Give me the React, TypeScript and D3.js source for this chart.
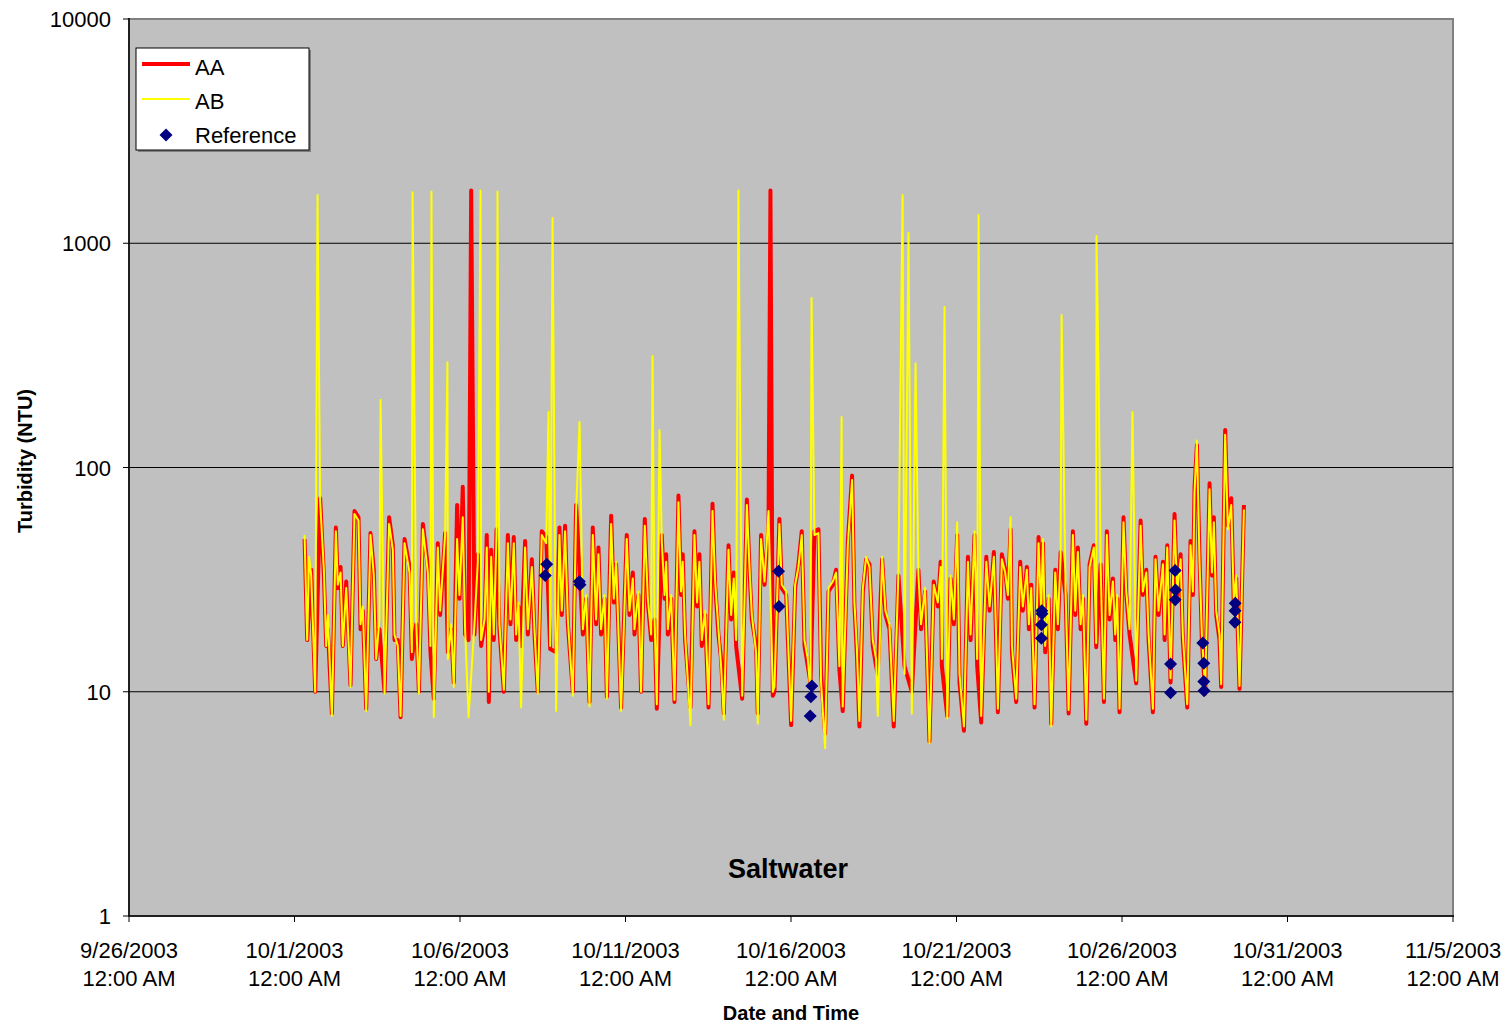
import React from "react";
import * as d3 from "d3";

// hours since 10/1/2003 12:00 AM, turbidity (NTU)
const aaSeries: [number, number][] = [
  [7.3,48],[9.2,17],[12.1,35],[15.0,10],[18.6,73],[21.3,33],[23.0,16],[24.2,19],[27.1,8],[30.0,54],[31.4,29],[33.4,36],[35.0,16],[37.5,31],[40.6,10.7],[43.5,64],[46.4,60],[47.9,19],[49.5,23],[52.0,8.4],[55.1,51],[57.5,35],[59.2,14],[61.6,19],[65.3,10],[68.6,60],[71.3,45],[72.5,17],[74.9,17],[76.9,7.7],[79.8,48],[83.4,36],[85.1,14],[88.2,20],[90.2,10],[93.1,56],[96.7,36],[98.6,15],[101.0,9.3],[103.9,46],[105.6,22],[109.2,51],[111.2,15],[113.6,19],[115.5,11],
  [117.9,68],[119.6,26],[122.0,82],[123.7,18],[126.2,17],[130.5,18],[132.9,41],[135.3,16],[137.8,20],[139.4,50],[140.9,9],[142.6,43],[144.5,17],[146.5,53],[148.6,19],[151.8,10],[154.7,50],[156.6,20],[159.0,49],[160.7,17],[162.4,24],[164.3,16],[167.2,47],[169.2,18],[172.1,39],[174.0,18],[176.4,10],[179.3,52],[182.5,49],[185.4,15.5],[189.7,15],[192.1,54],[193.8,22],[196.2,55],[198.2,20],[201.8,10],[204.2,68],[209.1,18],[211.5,26],[213.9,9],[216.3,54],[218.7,20],[220.4,44],[222.3,18],[224.8,26],[226.5,9.5],[229.6,61],[231.5,25],
  [233.2,37],[236.8,8.5],[240.9,50],[242.9,22],[245.3,34],[246.5,18],[249.4,27],[251.3,10],[254.0,59],[256.2,25],[258.6,17],[261.0,21],[262.7,8.4],[266.3,50],[268.3,26],[269.5,41],[270.7,18],[273.1,26],[275.5,9],[278.4,75],[280.3,27],[281.5,41],[283.2,17],[287.1,8.5],[290.0,52],[291.9,24],[293.6,41],[295.3,16],[297.7,22],[300.2,8.5],[303.1,69],[305.0,30],[307.4,18],[309.3,14],[311.3,8],[314.7,45],[316.6,21],[318.5,34],[320.2,16],[324.6,9.3],[328.0,72],[329.9,35],[331.6,21],[334.7,16],[335.9,8],[338.3,50],[340.8,30],[343.7,55],[346.8,9.6],
  [348.0,10],[351.6,59],[353.3,29],[356.5,27],[360.1,7.1],[363.0,29],[365.4,37],[367.8,52],[369.8,16],[372.2,13],[374.1,11],[377.0,52],[379.9,53],[381.8,12],[384.7,6.5],[387.2,28],[390.3,30],[392.7,35],[395.1,12.5],[397.5,8.2],[401.2,47],[404.3,92],[406.0,24],[407.7,15],[409.6,7],[412.1,28],[414.5,39],[416.9,37],[419.3,16],[421.7,13],[422.9,12],[426.1,39],[428.5,22],[431.4,19],[434.5,7],[437.9,33],[442.3,13],[447.6,10],[452.4,35],[454.3,19],[457.2,28],[460.4,6],[463.5,31],
  [466.5,24],[468.5,38],[469.4,13],[473.3,7.8],[475.7,32],[478.1,20],[480.5,50],[482.2,11],[485.4,6.7],[488.3,40],[490.2,17],[493.1,50],[495.0,13],[497.9,7.3],[501.6,40],[504.0,23],[507.1,42],[508.8,16],[510.0,8.1],[512.9,41],[515.3,35],[517.3,26],[519.2,53],[520.2,15],[523.3,9],[526.2,38],[528.1,23],[531.0,36],[532.5,19],[534.2,30],[536.6,8.5],[539.5,49],[541.4,22],[542.7,46],[544.3,15],[546.8,26],[548.7,7.2],[551.6,35],[553.5,19],[555.5,42],[559.1,27],[561.3,8],[564.4,52],[566.1,22],[568.0,44],[570.0,19],[571.7,26],[574.1,7.2],[576.5,37],[579.6,45],
  [581.3,15.8],[584.5,37],[586.9,9],[589.0,52],[591.0,21],[593.4,32],[595.1,17],[596.5,26],[598.2,8.1],[601.1,60],[603.1,27],[605.5,18],[610.3,10.9],[613.5,58],[615.1,27],[617.6,35],[619.3,17],[622.4,8.1],[624.3,40],[626.5,22],[629.7,38],[630.9,17],[632.8,45],[635.2,11],[638.1,62],[640.0,27],[642.5,41],[644.1,17],[647.3,8.5],[649.7,47],[651.4,27],[652.6,82],[654.3,126],[656.2,40],[657.9,17],[660.3,9.8],[663.5,85],[665.2,33],[666.6,60],[668.3,22],[670.7,17],[671.9,10.5],[674.8,147],[676.8,55],[679.2,73],[681.1,24],[682.8,32],[685.2,10.3],[688.4,68],
];

const aaSpikes: [number, number][] = [[128.1,1720],[345.1,1720]];

const abSeries: [number, number][] = [
  [7.3,50],[9.2,17],[10.6,40],[12.1,33],[15.0,10],[18.6,70],[21.3,35],[23.0,16],[24.2,22],[27.1,7.8],[30.0,52],[31.4,30],[33.4,34],[35.0,16],[37.5,29],[40.6,10.5],[43.5,62],[46.4,58],[47.9,20],[49.5,24],[52.0,8.2],[55.1,50],[57.5,33],[59.2,14],[61.6,21],[65.3,9.8],[68.6,56],[71.3,43],[72.5,18],[74.9,16],[76.9,7.8],[79.8,46],[83.4,34],[85.1,15],[88.2,21],[90.2,9.8],[93.1,53],[96.7,34],[98.6,16],[101.0,7.7],[103.9,44],[105.6,23],[109.2,50],[111.2,14],[113.6,20],[115.5,10.5],
  [117.9,48],[119.6,27],[122.0,60],[123.7,19],[126.2,7.7],[130.5,20],[132.9,38],[135.3,17],[137.8,21],[139.4,44],[140.9,10],[142.6,40],[144.5,18],[146.5,50],[148.6,20],[151.8,10.2],[154.7,46],[156.6,21],[159.0,46],[160.7,18],[162.4,25],[164.3,8.5],[167.2,44],[169.2,19],[172.1,36],[174.0,19],[176.4,9.8],[179.3,50],[182.5,46],[185.4,16],[189.7,8.2],[192.1,50],[193.8,23],[196.2,52],[198.2,21],[201.8,9.6],[204.2,64],[209.1,19],[211.5,27],[213.9,8.6],[216.3,50],[218.7,21],[220.4,41],[222.3,19],[224.8,27],[226.5,9.3],[229.6,56],[231.5,26],
  [233.2,38],[236.8,8.2],[240.9,48],[242.9,23],[245.3,32],[246.5,19],[249.4,28],[251.3,10],[254.0,55],[256.2,26],[258.6,18],[261.0,22],[262.7,8.8],[266.3,47],[268.3,27],[269.5,38],[270.7,19],[273.1,27],[275.5,9.2],[278.4,70],[280.3,28],[281.5,38],[283.2,18],[287.1,7.1],[290.0,50],[291.9,25],[293.6,38],[295.3,17],[297.7,23],[300.2,8.8],[303.1,64],[305.0,31],[307.4,19],[309.3,13],[311.3,7.5],[314.7,43],[316.6,22],[318.5,32],[320.2,17],[324.6,9.6],[328.0,68],[329.9,36],[331.6,22],[334.7,15],[335.9,7.2],[338.3,48],[340.8,31],[343.7,64],[346.8,10],
  [348.0,10.5],[351.6,56],[353.3,30],[356.5,28],[360.1,7.4],[363.0,30],[365.4,36],[367.8,50],[369.8,17],[372.2,14],[374.1,10],[377.0,50],[379.9,51],[381.8,11],[384.7,5.6],[387.2,29],[390.3,31],[392.7,34],[395.1,13],[397.5,8.6],[401.2,45],[404.3,88],[406.0,25],[407.7,16],[409.6,7.4],[412.1,29],[414.5,40],[416.9,36],[419.3,17],[421.7,14],[422.9,7.8],[426.1,40],[428.5,23],[431.4,20],[434.5,7.4],[437.9,34],[442.3,12],[447.6,8],[452.4,33],[454.3,20],[457.2,29],[460.4,5.9],[463.5,30],
  [466.5,25],[468.5,36],[469.4,14],[473.3,7.6],[475.7,33],[478.1,21],[480.5,57],[482.2,12],[485.4,7],[488.3,38],[490.2,18],[493.1,52],[495.0,14],[497.9,7.8],[501.6,38],[504.0,24],[507.1,40],[508.8,17],[510.0,8.4],[512.9,39],[515.3,34],[517.3,27],[519.2,60],[520.2,16],[523.3,9.3],[526.2,36],[528.1,24],[531.0,35],[532.5,20],[534.2,29],[536.6,8.8],[539.5,46],[541.4,23],[542.7,48],[544.3,16],[546.8,27],[548.7,7],[551.6,34],[553.5,20],[555.5,40],[559.1,28],[561.3,8.3],[564.4,50],[566.1,23],[568.0,42],[570.0,20],[571.7,27],[574.1,7.5],[576.5,36],[579.6,44],
  [581.3,16.5],[584.5,36],[586.9,9.3],[589.0,50],[591.0,22],[593.4,31],[595.1,18],[596.5,27],[598.2,8.4],[601.1,57],[603.1,28],[605.5,19],[610.3,11.2],[613.5,55],[615.1,28],[617.6,34],[619.3,18],[622.4,8.4],[624.3,39],[626.5,23],[629.7,37],[630.9,18],[632.8,44],[635.2,11.5],[638.1,58],[640.0,28],[642.5,39],[644.1,18],[647.3,8.8],[649.7,45],[651.4,28],[652.6,78],[654.3,132],[656.2,38],[657.9,18],[660.3,10.2],[663.5,80],[665.2,34],[666.6,57],[668.3,23],[670.7,18],[671.9,10.8],[674.8,140],[676.8,53],[679.2,68],[681.1,25],[682.8,33],[685.2,10.6],[688.4,65],
];

const abSpikes: [number, number][] = [
  [16.7,1640],[62.4,200],[85.6,1690],[99.3,1700],[110.9,295],[134.9,1720],[147.2,1700],[184.2,177],[187.1,1297],[206.7,160],[259.6,314],[264.7,147],[321.9,1720],[374.9,570],[396.7,168],[440.9,1640],[445.2,1110],[450.3,292],[471.3,520],[496.0,1337],[556.2,479],[581.5,1076],[583.0,267],[607.6,177],
];

const referenceHours: number[] = [181.8,182.9,206.5,207.0,351.0,351.3,375.1,374.4,373.9,541.8,542.0,541.6,541.6,638.5,638.8,638.6,635.2,635.2,658.6,659.3,659.3,659.5,682.1,682.0,681.9];
const referenceValues: number[] = [33,37,31,30,34.5,24,10.6,9.5,7.8,23,22.3,19.9,17.3,34.7,28.4,25.7,13.3,9.9,16.5,13.4,11.1,10.1,24.8,23,20.4];

const yTicks: number[] = [1, 10, 100, 1000, 10000];
const xTickDates: Date[] = [
  new Date(Date.UTC(2003, 8, 26)), new Date(Date.UTC(2003, 9, 1)), new Date(Date.UTC(2003, 9, 6)),
  new Date(Date.UTC(2003, 9, 11)), new Date(Date.UTC(2003, 9, 16)), new Date(Date.UTC(2003, 9, 21)),
  new Date(Date.UTC(2003, 9, 26)), new Date(Date.UTC(2003, 9, 31)), new Date(Date.UTC(2003, 10, 5)),
];
const seriesStart = Date.UTC(2003, 9, 1);

const W = 1511, H = 1028;
const L = 129, R = 1453, T = 19, B = 916;
const FONT = "'Liberation Sans', Arial, sans-serif";

const toDate = (h: number) => new Date(seriesStart + h * 3600e3);
const merge = (a: [number, number][], b: [number, number][]) => [...a, ...b].sort((p, q) => p[0] - q[0]);

export default function App() {
  const x = d3.scaleUtc().domain([xTickDates[0], xTickDates[xTickDates.length - 1]]).range([L, R]);
  const y = d3.scaleLog().domain([1, 10000]).range([B, T]);
  const line = d3.line<[number, number]>().x((d) => x(toDate(d[0]))).y((d) => y(d[1]));
  const aaPath = line(merge(aaSeries, aaSpikes)) || "";
  const abPath = line(merge(abSeries, abSpikes)) || "";
  const fmt = d3.utcFormat("%-m/%-d/%Y");
  const diamond = "M0,-6.5L6.5,0L0,6.5L-6.5,0Z";

  return (
    <svg width={W} height={H} style={{ position: "absolute", left: 0, top: 0, display: "block", background: "#fff" }} fontFamily={FONT}>
      <rect x={L} y={T} width={R - L} height={B - T} fill="#C0C0C0" stroke="#808080" strokeWidth={2} />
      {yTicks.slice(1, -1).map((t) => (
        <line key={t} x1={L} x2={R} y1={y(t)} y2={y(t)} stroke="#000" strokeWidth={1} />
      ))}
      <g>
        <path d={aaPath} fill="none" stroke="#FF0000" strokeWidth={4} strokeLinejoin="round" />
        <path d={abPath} fill="none" stroke="#FFFF00" strokeWidth={2} strokeLinejoin="round" />
        {referenceHours.map((h, i) => (
          <path key={i} d={diamond} transform={`translate(${x(toDate(h))},${y(referenceValues[i])})`} fill="#000080" />
        ))}
      </g>
      <line x1={L} x2={L} y1={T - 1} y2={B} stroke="#000" strokeWidth={1.5} />
      <line x1={L} x2={R + 1} y1={B} y2={B} stroke="#000" strokeWidth={1.5} />
      {yTicks.map((t) => (
        <g key={t}>
          <line x1={L - 6} x2={L} y1={y(t)} y2={y(t)} stroke="#000" />
          <text x={111} y={y(t) + 8} textAnchor="end" fontSize={22}>{t}</text>
        </g>
      ))}
      {xTickDates.map((d, i) => (
        <g key={i}>
          <line x1={x(d)} x2={x(d)} y1={B} y2={B + 6} stroke="#000" />
          <text x={x(d)} y={958} textAnchor="middle" fontSize={22}>{fmt(d)}</text>
          <text x={x(d)} y={986} textAnchor="middle" fontSize={22}>12:00 AM</text>
        </g>
      ))}
      <text x={791} y={1020} textAnchor="middle" fontSize={20} fontWeight="bold">Date and Time</text>
      <text x={788} y={878} textAnchor="middle" fontSize={27} fontWeight="bold">Saltwater</text>
      <text transform="translate(32,461) rotate(-90)" textAnchor="middle" fontSize={20} fontWeight="bold">Turbidity (NTU)</text>
      <g>
        <rect x={138} y={50} width={173} height={102} fill="#808080" />
        <rect x={136} y={48} width={173} height={102} fill="#fff" stroke="#000" strokeWidth={1} />
        <line x1={142} x2={190} y1={64} y2={64} stroke="#FF0000" strokeWidth={4} />
        <text x={195} y={75} fontSize={22}>AA</text>
        <line x1={142} x2={190} y1={99} y2={99} stroke="#FFFF00" strokeWidth={2} />
        <text x={195} y={109} fontSize={22}>AB</text>
        <path d={diamond} transform="translate(166,135)" fill="#000080" />
        <text x={195} y={143} fontSize={22}>Reference</text>
      </g>
    </svg>
  );
}
